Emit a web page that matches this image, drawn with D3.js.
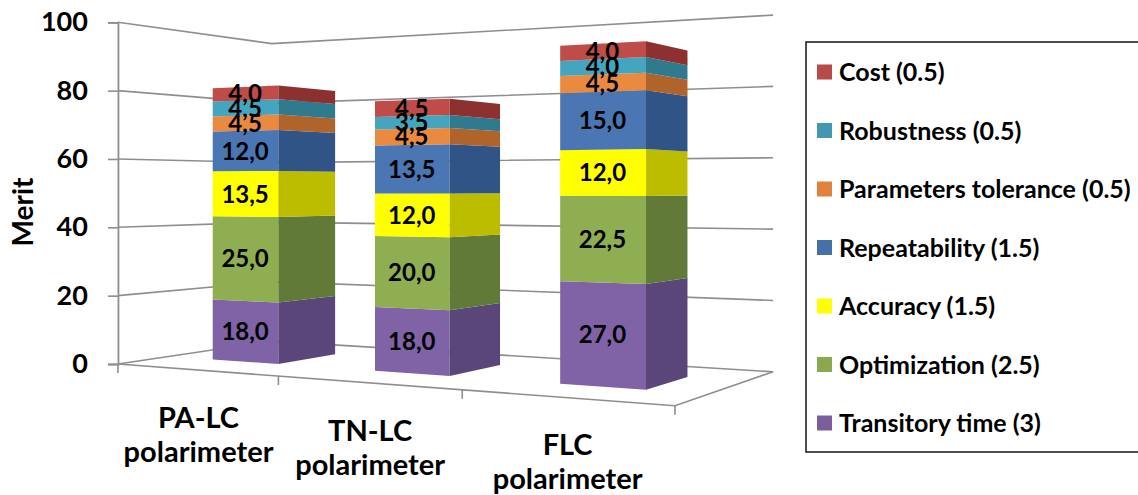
<!DOCTYPE html>
<html>
<head>
<meta charset="utf-8">
<script src="https://cdn.jsdelivr.net/npm/d3@7"></script>
<style>
  body { margin: 0; background: #fff; }
  svg { display: block; }
  text { font-family: Lato, "Open Sans", sans-serif; font-weight: 700; fill: #000; }
</style>
</head>
<body>
<svg id="chart" width="1138" height="495"></svg>
<script>
// ---- data -------------------------------------------------------------
const categories = ["PA-LC polarimeter", "TN-LC polarimeter", "FLC polarimeter"];
const seriesNames = [
  "Transitory time (3)", "Optimization (2.5)", "Accuracy (1.5)",
  "Repeatability (1.5)", "Parameters tolerance (0.5)", "Robustness (0.5)", "Cost (0.5)"
];
const transitoryTime      = [18.0, 18.0, 27.0];
const optimization        = [25.0, 20.0, 22.5];
const accuracy            = [13.5, 12.0, 12.0];
const repeatability       = [12.0, 13.5, 15.0];
const parametersTolerance = [4.5, 4.5, 4.5];
const robustness          = [4.5, 3.5, 4.0];
const cost                = [4.0, 4.5, 4.0];
const yTicks = [0, 20, 40, 60, 80, 100];

const seriesValues = [transitoryTime, optimization, accuracy, repeatability,
                      parametersTolerance, robustness, cost];
const frontColors = ["#7f63a6", "#8fae51", "#ffff00", "#4a77b3", "#e98a40", "#45a5bf", "#bf4c49"];
const sideColors  = ["#5a4679", "#627a37", "#bdbd00", "#315486", "#b0632b", "#2f7a8e", "#8c3030"];
const legendColors = ["#7a5e9e", "#8aa84e", "#ffff00", "#4472a8", "#e0823d", "#4198b0", "#b84a47"];

// ---- 3D scene: floor is W x D, values rise along Y ---------------------
const W = 176.5, D = 70.5;
const cam = { x0: 569, yh: 187, f: 1441, eye: 51.8, phi: Math.atan(-0.5121), ox: -132, oz: 421.7 };
const cphi = Math.cos(cam.phi), sphi = Math.sin(cam.phi);

function project(X, Z, Y) {
  const xc = cam.ox + cphi * X - sphi * Z;
  const zc = cam.oz + sphi * X + cphi * Z;
  return [cam.x0 + cam.f * xc / zc, cam.yh - cam.f * (Y - cam.eye) / zc];
}

// world scales
const xBand = d3.scaleBand().domain(categories).range([0, W]).paddingInner(0.58).paddingOuter(0.29);
const yWorld = d3.scaleLinear().domain([0, 100]).range([0, 100]);
const barDepth = xBand.bandwidth() * 1.12;
const zFront = D / 2 - barDepth / 2, zBack = D / 2 + barDepth / 2;

// stacked table
const table = categories.map((c, i) => {
  const row = { category: c };
  seriesNames.forEach((s, k) => { row[s] = seriesValues[k][i]; });
  return row;
});
const stacked = d3.stack().keys(seriesNames)(table);

const svg = d3.select("#chart");
const line = d3.line();
const poly = pts => line(pts) + "Z";

// ---- walls and gridlines ----------------------------------------------
const grid = svg.append("g").attr("fill", "none").attr("stroke", "#8e8e8e").attr("stroke-width", 1.6);
yTicks.forEach(t => {
  const y = yWorld(t);
  grid.append("path").attr("d", line([project(0, 0, y), project(0, D, y), project(W, D, y)]));
});
// floor outline
grid.append("path").attr("d", line([project(0, 0, 0), project(W, 0, 0), project(W, D, 0)]));
// category ticks along the front edge
d3.range(categories.length + 1).forEach(i => {
  const X = i === categories.length ? W : xBand.step() * i;
  const p = project(X, 0, 0);
  grid.append("line").attr("x1", p[0]).attr("y1", p[1]).attr("x2", p[0]).attr("y2", p[1] + 9);
});

// ---- value axis on the front-left edge --------------------------------
const axisX = project(0, 0, 0)[0];
const yScreen = d3.scaleLinear().domain([0, 100])
  .range([project(0, 0, yWorld(0))[1], project(0, 0, yWorld(100))[1]]);
const axisG = svg.append("g").attr("transform", `translate(${axisX},0)`)
  .call(d3.axisLeft(yScreen).tickValues(yTicks).tickSize(10).tickPadding(20));
axisG.select(".domain").attr("stroke", "#8e8e8e").attr("stroke-width", 1.8);
axisG.selectAll(".tick line").attr("stroke", "#8e8e8e").attr("stroke-width", 1.6);
axisG.selectAll(".tick text").attr("font-size", 27).attr("font-family", "Lato, sans-serif")
  .attr("font-weight", 700).attr("fill", "#000");

svg.append("text").attr("transform", "translate(33,212) rotate(-90)")
  .attr("text-anchor", "middle").attr("font-size", 28).text("Merit");

// ---- bars ---------------------------------------------------------------
const bars = svg.append("g");
stacked.forEach((layer, k) => {
  layer.forEach((seg, i) => {
    const xa = xBand(categories[i]), xb = xa + xBand.bandwidth();
    const y0 = yWorld(seg[0]), y1 = yWorld(seg[1]);
    bars.append("path").attr("fill", frontColors[k])
      .attr("d", poly([project(xa, zFront, y0), project(xb, zFront, y0), project(xb, zFront, y1), project(xa, zFront, y1)]));
    bars.append("path").attr("fill", sideColors[k])
      .attr("d", poly([project(xb, zFront, y0), project(xb, zBack, y0), project(xb, zBack, y1), project(xb, zFront, y1)]));
  });
});

// value labels on the front faces
const labels = svg.append("g").attr("text-anchor", "middle").attr("font-size", 24);
stacked.forEach(layer => {
  layer.forEach((seg, i) => {
    const xc = xBand(categories[i]) + xBand.bandwidth() / 2;
    const p = project(xc, zFront, yWorld((seg[0] + seg[1]) / 2));
    labels.append("text").attr("x", p[0]).attr("y", p[1]).attr("dy", "0.36em")
      .text((seg[1] - seg[0]).toFixed(1).replace(".", ","));
  });
});

// category labels under the front edge
const catG = svg.append("g").attr("text-anchor", "middle").attr("font-size", 29);
categories.forEach(c => {
  const p = project(xBand(c) + xBand.bandwidth() / 2, 0, 0);
  const words = c.split(" ");
  const t = catG.append("text").attr("x", p[0] + 3).attr("y", p[1] + 58);
  words.forEach((w, j) => t.append("tspan").attr("x", p[0] + 3).attr("dy", j ? 34 : 0).text(w));
});

// ---- legend -------------------------------------------------------------
const legend = svg.append("g").attr("transform", "translate(806,42)");
legend.append("rect").attr("width", 360).attr("height", 410)
  .attr("fill", "none").attr("stroke", "#222").attr("stroke-width", 1.6);
seriesNames.slice().reverse().forEach((name, j) => {
  const k = seriesNames.length - 1 - j;
  const g = legend.append("g").attr("transform", `translate(11,${30 + j * 58.5})`);
  g.append("rect").attr("y", -7.5).attr("width", 15).attr("height", 15).attr("fill", legendColors[k]);
  g.append("text").attr("x", 22).attr("dy", "0.36em").attr("font-size", 25).text(name);
});
</script>
</body>
</html>
